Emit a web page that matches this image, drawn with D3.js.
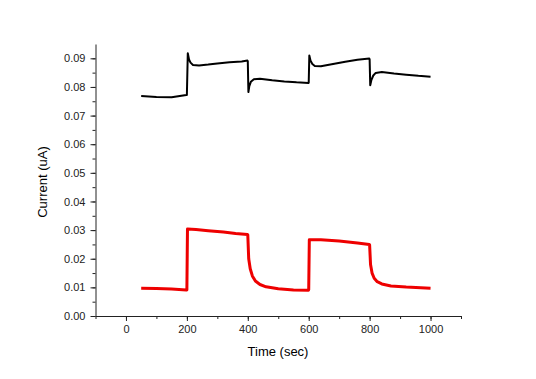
<!DOCTYPE html>
<html>
<head>
<meta charset="utf-8">
<script src="https://cdn.jsdelivr.net/npm/d3@7"></script>
<style>
  body { margin: 0; background: #fff; }
  text { font-family: "Liberation Sans", Arial, sans-serif; }
</style>
</head>
<body>
<svg width="536" height="379"></svg>
<script>
// values (time in s, current in uA)
var blackT = [50, 100, 150, 198, 200, 203, 207, 212, 220, 240, 270, 300, 340, 380, 399,
  400, 402, 405, 410, 420, 440, 480, 520, 560, 599,
  600, 602, 606, 612, 620, 640, 680, 720, 760, 799,
  800, 802, 806, 812, 820, 840, 880, 920, 960, 1000];
var blackI = [0.0768, 0.0765, 0.0764, 0.0772, 0.0772, 0.0918, 0.0896, 0.0885, 0.0877, 0.0875, 0.0878, 0.0882, 0.0886, 0.0889, 0.0892,
  0.0890, 0.0782, 0.0803, 0.0818, 0.0827, 0.0829, 0.0823, 0.0819, 0.0816, 0.0814,
  0.0815, 0.0910, 0.0892, 0.0880, 0.0873, 0.0872, 0.0880, 0.0888, 0.0895, 0.0899,
  0.0897, 0.0806, 0.0825, 0.0840, 0.0849, 0.0852, 0.0847, 0.0843, 0.0839, 0.0836];

var redT = [50, 100, 150, 198, 200, 202, 230, 270, 320, 360, 399,
  400, 403, 408, 415, 425, 440, 460, 500, 550, 599,
  600, 602, 640, 700, 760, 799,
  800, 803, 808, 815, 825, 840, 870, 920, 1000];
var redI = [0.0097, 0.0096, 0.0094, 0.0091, 0.0091, 0.0304, 0.0302, 0.0298, 0.0293, 0.0288, 0.0285,
  0.0283, 0.0200, 0.0165, 0.0140, 0.0122, 0.0110, 0.0102, 0.0095, 0.0091, 0.0090,
  0.0092, 0.0266, 0.0266, 0.0262, 0.0255, 0.0250,
  0.0248, 0.0180, 0.0150, 0.0132, 0.0120, 0.0112, 0.0105, 0.0101, 0.0097];

var xTicks = [0, 200, 400, 600, 800, 1000];
var yTicks = [0, 0.01, 0.02, 0.03, 0.04, 0.05, 0.06, 0.07, 0.08, 0.09];

var svg = d3.select("svg");
var x = d3.scaleLinear().domain([-100, 1100]).range([95.5, 461]);
var y = d3.scaleLinear().domain([0, 0.095]).range([316, 44]);

var line = d3.line()
  .x(function(d) { return x(d[0]); })
  .y(function(d) { return y(d[1]); });

function pairs(t, v) { return t.map(function(d, i) { return [d, v[i]]; }); }

// minor ticks
svg.append("g")
  .attr("transform", "translate(0,316)")
  .call(d3.axisBottom(x).tickValues(d3.range(-100, 1101, 100)).tickSize(3).tickFormat(""))
  .call(function(g) { g.select(".domain").remove(); });
svg.append("g")
  .attr("transform", "translate(95.5,0)")
  .call(d3.axisLeft(y).tickValues(d3.range(0, 19).map(function(i) { return i * 0.005; })).tickSize(3).tickFormat(""))
  .call(function(g) { g.select(".domain").remove(); });

var xAxis = svg.append("g")
  .attr("transform", "translate(0,316)")
  .call(d3.axisBottom(x).tickValues(xTicks).tickSize(5).tickSizeOuter(0).tickPadding(4).tickFormat(d3.format("d")));
var yAxis = svg.append("g")
  .attr("transform", "translate(95.5,0)")
  .call(d3.axisLeft(y).tickValues(yTicks).tickSize(5).tickSizeOuter(0).tickPadding(5).tickFormat(d3.format(".2f")));

svg.selectAll(".tick text").attr("font-size", 11).attr("fill", "#222")
  .style("font-family", "'Liberation Sans', Arial, sans-serif");
svg.selectAll(".domain, .tick line").attr("stroke", "#222");

svg.append("path")
  .datum(pairs(redT, redI))
  .attr("fill", "none")
  .attr("stroke", "#ee0000")
  .attr("stroke-width", 3)
  .attr("stroke-linejoin", "round")
  .attr("d", line);

svg.append("path")
  .datum(pairs(blackT, blackI))
  .attr("fill", "none")
  .attr("stroke", "#000")
  .attr("stroke-width", 2)
  .attr("stroke-linejoin", "round")
  .attr("d", line);

svg.append("text")
  .attr("x", 278).attr("y", 356)
  .attr("text-anchor", "middle")
  .attr("font-size", 13)
  .text("Time (sec)");

svg.append("text")
  .attr("transform", "translate(47,182) rotate(-90)")
  .attr("text-anchor", "middle")
  .attr("font-size", 13)
  .text("Current (uA)");
</script>
</body>
</html>
